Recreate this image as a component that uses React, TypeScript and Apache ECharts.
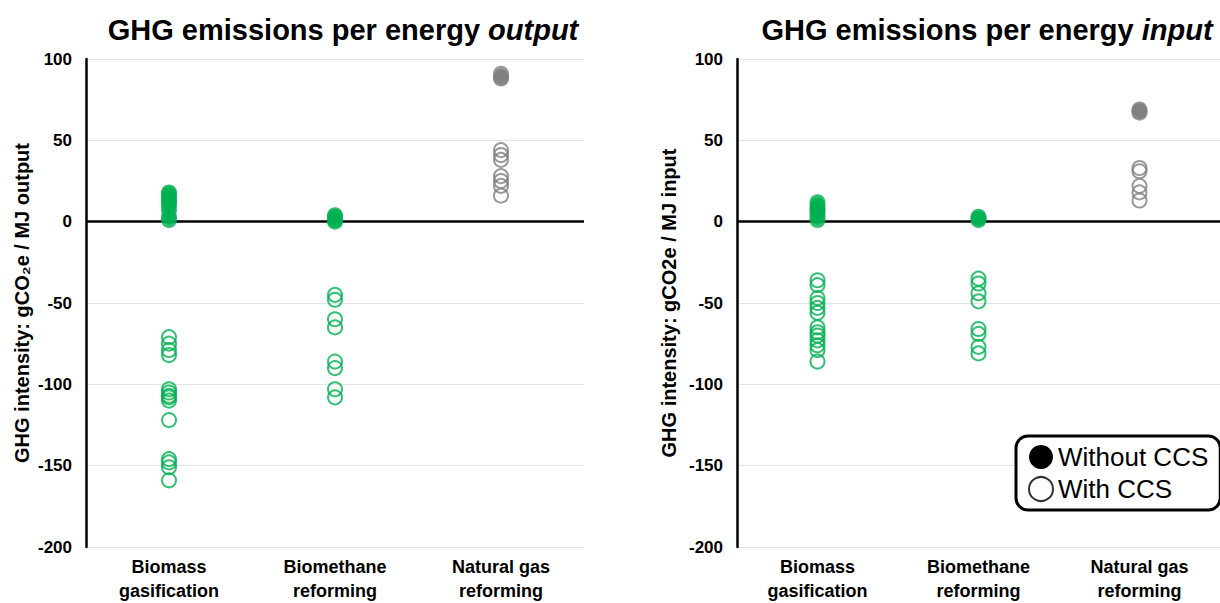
import React, { useEffect, useRef } from "react";
import * as echarts from "echarts";

const categories = ["Biomass\ngasification", "Biomethane\nreforming", "Natural gas\nreforming"];
const yTicks = [-200, -150, -100, -50, 0, 50, 100];

// Panel 1: per energy output
const outBiomassWithout = [18, 17, 15, 13, 12, 10, 7, 3, 1];
const outBiomassWith = [-71, -75, -79, -82, -103, -105, -107, -108, -110, -122, -146, -148, -151, -159];
const outBiomethaneWithout = [4, 3, 1, 0];
const outBiomethaneWith = [-45, -48, -60, -65, -86, -90, -103, -108];
const outNGWithout = [91, 89, 88];
const outNGWith = [44, 41, 38, 28, 25, 22, 16];

// Panel 2: per energy input
const inBiomassWithout = [12, 10, 8, 7, 5, 3, 1];
const inBiomassWith = [-36, -39, -47, -50, -53, -56, -65, -68, -70, -73, -76, -79, -86];
const inBiomethaneWithout = [3, 2, 1];
const inBiomethaneWith = [-35, -38, -44, -49, -66, -69, -77, -81];
const inNGWithout = [69, 68, 67];
const inNGWith = [33, 31, 22, 18, 13];

const GREEN = "#00b050";
const GRAY = "#7f7f7f";
const FONT = "'Liberation Sans', Arial, sans-serif";
const catColors = [GREEN, GREEN, GRAY];

function filledData(groups: number[][]) {
  const out: any[] = [];
  groups.forEach((vals, ci) =>
    vals.forEach((v) => out.push({ value: [ci, v], itemStyle: { color: catColors[ci] } }))
  );
  return out;
}
function hollowData(groups: number[][]) {
  const out: any[] = [];
  groups.forEach((vals, ci) =>
    vals.forEach((v) =>
      out.push({
        value: [ci, v],
        itemStyle: { color: "rgba(0,0,0,0)", borderColor: catColors[ci], borderWidth: 2 },
      })
    )
  );
  return out;
}

export default function App() {
  const ref = useRef<HTMLDivElement>(null);
  useEffect(() => {
    if (!ref.current) return;
    const chart = echarts.init(ref.current, undefined, { renderer: "svg" });
    const grids = [
      { left: 86, top: 59, width: 498, height: 490 },
      { left: 737, top: 59, width: 498, height: 490 },
    ];
    const names = ["GHG intensity: gCO\u2082e / MJ output", "GHG intensity: gCO2e / MJ input"];
    const nameGaps = [54, 58];
    const xAxis = grids.map((_, i) => ({
      type: "category",
      gridIndex: i,
      data: categories,
      boundaryGap: true,
      axisLine: { show: false },
      axisTick: { show: false },
      splitLine: { show: false },
      axisLabel: {
        color: "#000",
        fontFamily: FONT,
        fontWeight: "bold",
        fontSize: 18,
        lineHeight: 24,
        margin: 8,
        interval: 0,
      },
    }));
    const yAxis = grids.map((_, i) => ({
      type: "value",
      gridIndex: i,
      min: yTicks[0],
      max: yTicks[yTicks.length - 1],
      interval: 50,
      name: names[i],
      nameLocation: "middle",
      nameGap: nameGaps[i],
      nameTextStyle: { color: "#000", fontFamily: FONT, fontWeight: "bold", fontSize: 20 },
      axisLine: { show: true, lineStyle: { color: "#000", width: 2.5 } },
      axisTick: { show: false },
      splitLine: { show: true, lineStyle: { color: "#e4e4e4", width: 1 } },
      axisLabel: { color: "#000", fontFamily: FONT, fontWeight: "bold", fontSize: 17, margin: 14 },
    }));
    const panels = [
      {
        without: [outBiomassWithout, outBiomethaneWithout, outNGWithout],
        with: [outBiomassWith, outBiomethaneWith, outNGWith],
      },
      {
        without: [inBiomassWithout, inBiomethaneWithout, inNGWithout],
        with: [inBiomassWith, inBiomethaneWith, inNGWith],
      },
    ];
    const series: any[] = [];
    panels.forEach((p, i) => {
      series.push({
        type: "scatter",
        name: "With CCS",
        xAxisIndex: i,
        yAxisIndex: i,
        symbol: "circle",
        symbolSize: 14,
        z: 3,
        data: hollowData(p.with),
        markLine: {
          silent: true,
          z: 1,
          symbol: ["none", "none"],
          label: { show: false },
          lineStyle: { color: "#000", width: 2.5, type: "solid" },
          data: [{ yAxis: 0 }],
        },
      });
      series.push({
        type: "scatter",
        name: "Without CCS",
        xAxisIndex: i,
        yAxisIndex: i,
        symbol: "circle",
        symbolSize: 16,
        z: 4,
        data: filledData(p.without),
      });
    });
    const titleRich = {
      a: { fontFamily: FONT, fontWeight: "bold", fontSize: 29, fill: "#000" },
      b: { fontFamily: FONT, fontWeight: "bold", fontStyle: "italic", fontSize: 29, fill: "#000" },
    };
    chart.setOption({
      animation: false,
      grid: grids,
      xAxis,
      yAxis,
      series,
      legend: {
        left: 1016,
        top: 436,
        orient: "vertical",
        selectedMode: false,
        padding: [8, 12, 8, 12],
        itemGap: 6,
        itemWidth: 24,
        itemHeight: 24,
        borderColor: "#000",
        borderWidth: 3,
        borderRadius: 12,
        backgroundColor: "#fff",
        textStyle: { color: "#000", fontFamily: FONT, fontSize: 26 },
        data: [
          { name: "Without CCS", icon: "circle", itemStyle: { color: "#000", borderWidth: 0, opacity: 1 } },
          { name: "With CCS", icon: "circle", itemStyle: { color: "#fff", borderColor: "#000", borderWidth: 2 } },
        ],
      },
      graphic: [
        {
          type: "text",
          x: 343,
          y: 30,
          style: {
            text: "{a|GHG emissions per energy }{b|output}",
            align: "center",
            verticalAlign: "middle",
            rich: titleRich,
          },
        },
        {
          type: "text",
          x: 987,
          y: 30,
          style: {
            text: "{a|GHG emissions per energy }{b|input}",
            align: "center",
            verticalAlign: "middle",
            rich: titleRich,
          },
        },
      ],
    });
    return () => chart.dispose();
  }, []);
  return (
    <div
      ref={ref}
      style={{ position: "fixed", left: 0, top: 0, width: 1220, height: 603, background: "#fff" }}
    />
  );
}
